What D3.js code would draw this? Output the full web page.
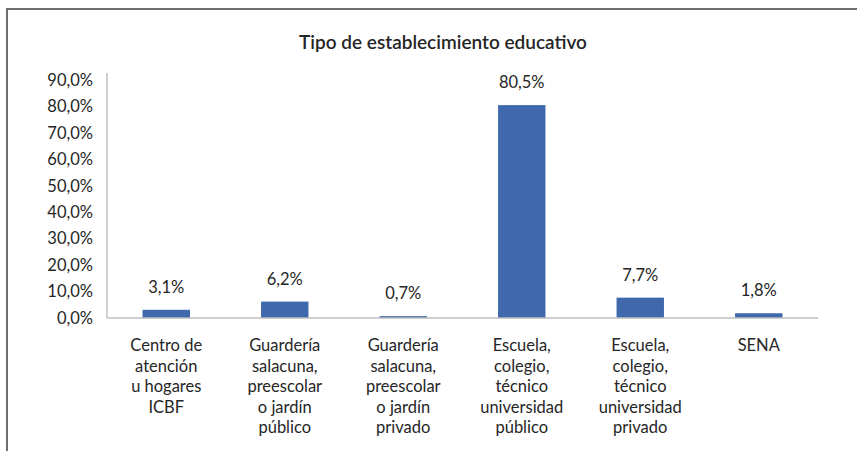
<!DOCTYPE html>
<meta charset="utf-8">
<style>
	body { margin: 0; background: #fff; }
	text { font-family: Lato, "Liberation Sans", sans-serif; fill: #262626; }
	.title { font-size: 19px; font-weight: 600; text-anchor: middle; }
	.tick text { font-size: 16.5px; }
	.val { font-size: 16.5px; text-anchor: middle; }
	.cat { font-size: 16.5px; text-anchor: middle; }
</style>
<body>
<script src="https://d3js.org/d3.v7.min.js"></script>
<script>

	var categories = [
		["Centro de", "atención", "u hogares", "ICBF"],
		["Guardería", "salacuna,", "preescolar", "o jardín", "público"],
		["Guardería", "salacuna,", "preescolar", "o jardín", "privado"],
		["Escuela,", "colegio,", "técnico", "universidad", "público"],
		["Escuela,", "colegio,", "técnico", "universidad", "privado"],
		["SENA"]
	];
	var values = [3.1, 6.2, 0.7, 80.5, 7.7, 1.8];
	var yTicks = [0, 10, 20, 30, 40, 50, 60, 70, 80, 90];

	var width = 857, height = 451;
	var left = 107, right = 818, base = 318;

	var fmt = function(v) { return v.toFixed(1).replace(".", ",") + "%"; };

	var svg = d3.select("body").append("svg")
		.attr("width", width)
		.attr("height", height);

	// frame (top + left only, as cropped)
	svg.append("path")
		.attr("d", "M7," + height + "V9H" + width)
		.attr("fill", "none")
		.attr("stroke", "#6f6f6f")
		.attr("stroke-width", 2);

	svg.append("text")
		.attr("class", "title")
		.attr("x", 443)
		.attr("y", 49)
		.text("Tipo de establecimiento educativo");

	var x = d3.scaleBand()
		.domain(d3.range(values.length))
		.range([left, right])
		.paddingInner(0.6)
		.paddingOuter(0.3);

	var y = d3.scaleLinear()
		.domain([0, 90])
		.range([base, 80]);

	var yAxis = svg.append("g")
		.attr("transform", "translate(" + left + ",0)")
		.call(d3.axisLeft(y).tickValues(yTicks).tickSize(0).tickPadding(14).tickFormat(fmt));
	yAxis.select(".domain").attr("stroke", "#bfbfbf").attr("stroke-width", 1.5)
		.attr("d", "M0," + base + "V73");

	svg.selectAll(".bar")
		.data(values)
		.enter().append("rect")
		.attr("class", "bar")
		.attr("x", function(d, i) { return x(i); })
		.attr("width", x.bandwidth())
		.attr("y", function(d) { return y(d); })
		.attr("height", function(d) { return base - y(d); })
		.attr("fill", "#3f68ad");

	svg.append("line")
		.attr("x1", left).attr("x2", right)
		.attr("y1", base).attr("y2", base)
		.attr("stroke", "#bfbfbf")
		.attr("stroke-width", 1.5);

	svg.selectAll(".val")
		.data(values)
		.enter().append("text")
		.attr("class", "val")
		.attr("x", function(d, i) { return x(i) + x.bandwidth() / 2; })
		.attr("y", function(d) { return y(d) - 17; })
		.text(fmt);

	var cat = svg.selectAll(".cat")
		.data(categories)
		.enter().append("text")
		.attr("class", "cat")
		.attr("transform", function(d, i) { return "translate(" + (x(i) + x.bandwidth() / 2) + ",351)"; });

	cat.selectAll("tspan")
		.data(function(d) { return d; })
		.enter().append("tspan")
		.attr("x", 0)
		.attr("dy", function(d, i) { return i ? 20.5 : 0; })
		.text(function(d) { return d; });
</script>
